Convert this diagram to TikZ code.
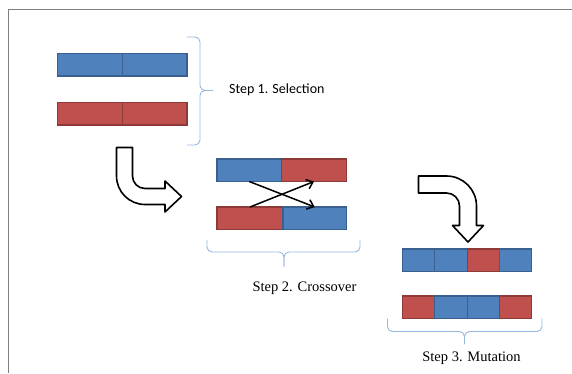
\documentclass[tikz,border=0pt]{standalone}
\usepackage{fontspec}
\setmainfont{Liberation Serif}
\newfontfamily\calibri{Carlito}
\usetikzlibrary{arrows.meta}
\definecolor{geneblue}{HTML}{4F81BD}
\definecolor{genebluedark}{HTML}{3A6090}
\definecolor{genered}{HTML}{C0504D}
\definecolor{genereddark}{HTML}{8E3A38}
\definecolor{bracecol}{HTML}{95B7E0}
\tikzset{
  gene/.style={draw=#1dark, fill=#1, line width=1.2pt, minimum height=22.5,
    inner sep=0, outer sep=0, anchor=north west},
  bracepath/.style={bracecol, line width=0.9pt, rounded corners=5},
  blockarrow/.style={draw=black, fill=white, line width=1.6pt, line join=round},
  swap/.style={line width=1.5pt, -{Straight Barb[length=6pt,width=10pt]}},
  steplabel/.style={inner sep=0, font=\fontsize{14.5}{16}\selectfont}
}
% chromosome: name, left x, top y, segment width, colours
\newcommand\Chrom[5]{
  \foreach \c [count=\i] in {#5}
  {
    \pgfmathsetmacro{\segx}{#2+(\i-1)*#4}
    \node[gene=\c, minimum width=#4] (#1-\i) at (\segx,#3) {};
  }
}
% brace: end a, spine corner, tip, spine corner, end b
\newcommand\GroupBrace[5]{
  \draw[bracepath] #1 -- #2 -- #3;
  \draw[bracepath] #5 -- #4 -- #3;
}

\begin{document}
\begin{tikzpicture}[x=1pt, y=-1pt]
\useasboundingbox (0,0) rectangle (572,373);
\draw[black!50, line width=1.3pt] (8.5,373) -- (8.5,9.5) -- (572,9.5);

% step 1
\Chrom{parA}{57.5}{53.5}{64.75}{geneblue,geneblue}
\Chrom{parB}{57.5}{102.5}{64.75}{genered,genered}
\GroupBrace{(187,37)}{(200,37)}{(200,90.5) -- (213,90.5)}{(200,145)}{(187,145)}
\node[steplabel, font=\calibri\fontsize{14}{16}\selectfont, anchor=west] (sel) at (229,90) {Step 1. Selection};

% arrow to step 2
\draw[blockarrow] (116.5,147.5) -- (116.5,176) arc (180:90:28.5)
  -- (165,204.5) -- (165,212) -- (181.5,196.5) -- (165,181) -- (165,188.5)
  -- (145,188.5) arc (90:180:12.5) -- (132.5,147.5) -- cycle;

% step 2
\node[gene=geneblue, minimum width=64.5] (topL) at (217,159) {};
\node[gene=genered, minimum width=65] (topR) at (281.5,159) {};
\node[gene=genered, minimum width=66] (botL) at (217,207) {};
\node[gene=geneblue, minimum width=63.5] (botR) at (283,207) {};
\draw[swap] (topL.south) -- (botR.north);
\draw[swap] (botL.north) -- (topR.south);
\GroupBrace{(207,240)}{(207,252)}{(284,252) -- (284,266.5)}{(360,252)}{(360,240)}
\node[steplabel] (cross) at (304.5,288.5) {Step 2. Crossover};

% arrow to step 3
\draw[blockarrow] (418.5,176) -- (446.5,176) arc (270:360:30)
  -- (476.5,225.5) -- (483.5,225.5) -- (468,242) -- (452.5,225.5) -- (459.5,225.5)
  -- (459.5,206) arc (360:270:13) -- (418.5,193) -- cycle;

% step 3
\Chrom{mutA}{402.5}{249}{32.3}{geneblue,geneblue,genered,geneblue}
\Chrom{mutB}{402.5}{296}{32.3}{genered,geneblue,geneblue,genered}
\GroupBrace{(387.5,318.5)}{(387.5,331.5)}{(464.5,331.5) -- (464.5,344)}{(542,331.5)}{(542,318.5)}
\node[steplabel] (mut) at (471.5,358.5) {Step 3. Mutation};
\end{tikzpicture}
\end{document}
